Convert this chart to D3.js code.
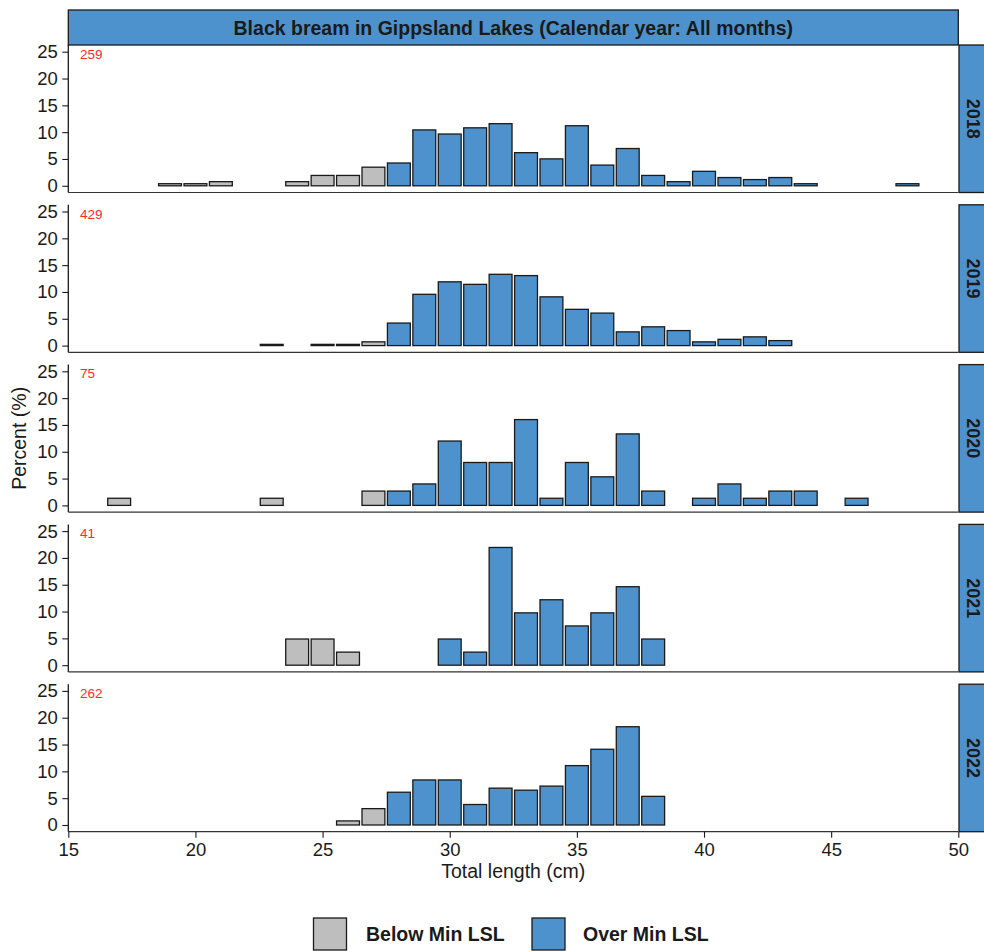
<!DOCTYPE html>
<html>
<head>
<meta charset="utf-8">
<script src="https://cdn.jsdelivr.net/npm/d3@7"></script>
<style>
  html, body { margin: 0; padding: 0; background: #fff; }
  svg { display: block; font-family: "Liberation Sans", Arial, Helvetica, sans-serif; }
</style>
</head>
<body>
<svg id="chart" width="984" height="952"></svg>
<script>
// Length-frequency of black bream catches, one histogram per calendar year
const years = ["2018", "2019", "2020", "2021", "2022"];
const sampleSizes = [259, 429, 75, 41, 262];
const minLSL = 28; // minimum legal size limit (cm)

// Percent of fish in each 1 cm length class
const len2018 = [19, 20, 21, 24, 25, 26, 27, 28, 29, 30, 31, 32, 33, 34, 35, 36, 37, 38, 39, 40, 41, 42, 43, 44, 48];
const pct2018 = [0.39, 0.39, 0.77, 0.77, 1.93, 1.93, 3.47, 4.25, 10.42, 9.65, 10.81, 11.58, 6.18, 5.02, 11.20, 3.86, 6.95, 1.93, 0.77, 2.70, 1.54, 1.16, 1.54, 0.39, 0.39];

const len2019 = [23, 25, 26, 27, 28, 29, 30, 31, 32, 33, 34, 35, 36, 37, 38, 39, 40, 41, 42, 43];
const pct2019 = [0.23, 0.23, 0.23, 0.70, 4.20, 9.56, 11.89, 11.42, 13.29, 13.05, 9.09, 6.76, 6.06, 2.56, 3.50, 2.80, 0.70, 1.17, 1.63, 0.93];

const len2020 = [17, 23, 27, 28, 29, 30, 31, 32, 33, 34, 35, 36, 37, 38, 40, 41, 42, 43, 44, 46];
const pct2020 = [1.33, 1.33, 2.67, 2.67, 4.00, 12.00, 8.00, 8.00, 16.00, 1.33, 8.00, 5.33, 13.33, 2.67, 1.33, 4.00, 1.33, 2.67, 2.67, 1.33];

const len2021 = [24, 25, 26, 30, 31, 32, 33, 34, 35, 36, 37, 38];
const pct2021 = [4.88, 4.88, 2.44, 4.88, 2.44, 21.95, 9.76, 12.20, 7.32, 9.76, 14.63, 4.88];

const len2022 = [26, 27, 28, 29, 30, 31, 32, 33, 34, 35, 36, 37, 38];
const pct2022 = [0.76, 3.05, 6.11, 8.40, 8.40, 3.82, 6.87, 6.49, 7.25, 11.07, 14.12, 18.32, 5.34];

const xTicks = [15, 20, 25, 30, 35, 40, 45, 50];
const yTicks = [0, 5, 10, 15, 20, 25];
const legendLabels = ["Below Min LSL", "Over Min LSL"];

const lengthsByYear = [len2018, len2019, len2020, len2021, len2022];
const pctByYear = [pct2018, pct2019, pct2020, pct2021, pct2022];

const colBelow = "#bebebe";
const colOver = "#4d92cd";
const stripFill = "#4d92cd";
const ink = "#1a1a1a";

const svg = d3.select("#chart");

const left = 68.3, right = 958.3;
const panelTop0 = 45, panelStep = 159.8, panelH = 147.5;
const stripW = 34;

const x = d3.scaleLinear().domain([15, 50]).range([left, right]);
const binW = 0.9;

// Title strip across the top
svg.append("rect")
  .attr("x", left).attr("y", 10)
  .attr("width", right - left).attr("height", 35)
  .attr("fill", stripFill).attr("stroke", ink).attr("stroke-width", 1.3);
svg.append("text")
  .attr("x", (left + right) / 2).attr("y", 34.5)
  .attr("text-anchor", "middle")
  .attr("font-size", 19.5).attr("font-weight", "bold").attr("fill", ink)
  .text("Black bream in Gippsland Lakes (Calendar year: All months)");

years.forEach((yr, i) => {
  const top = panelTop0 + i * panelStep;
  const bottom = top + panelH;
  const y = d3.scaleLinear().domain([-1.25, 26.25]).range([bottom, top]);
  const g = svg.append("g");

  const data = lengthsByYear[i].map((l, k) => ({ len: l, pct: pctByYear[i][k] }));

  // bars
  g.selectAll("rect.bar").data(data).enter().append("rect")
    .attr("class", "bar")
    .attr("x", d => x(d.len - binW / 2))
    .attr("width", d => x(d.len + binW / 2) - x(d.len - binW / 2))
    .attr("y", d => y(d.pct))
    .attr("height", d => y(0) - y(d.pct))
    .attr("fill", d => d.len < minLSL ? colBelow : colOver)
    .attr("stroke", ink).attr("stroke-width", 1.3);

  // y axis
  const yAxis = d3.axisLeft(y).tickValues(yTicks).tickSize(6).tickPadding(4.5);
  const ya = g.append("g").attr("transform", `translate(${left},0)`).call(yAxis);
  ya.select(".domain").remove();
  ya.selectAll(".tick line").attr("stroke", ink).attr("stroke-width", 1.1);
  ya.selectAll(".tick text").attr("font-size", 18.5).attr("fill", ink)
    .attr("font-family", "Liberation Sans, Arial, sans-serif");

  // axis lines
  g.append("line").attr("x1", left).attr("x2", left).attr("y1", top).attr("y2", bottom)
    .attr("stroke", ink).attr("stroke-width", 1.3);
  g.append("line").attr("x1", left).attr("x2", right).attr("y1", bottom).attr("y2", bottom)
    .attr("stroke", "#333").attr("stroke-width", 1.2);

  // sample size
  g.append("text")
    .attr("x", 80).attr("y", top + 13.8)
    .attr("font-size", 13.5).attr("fill", "#ff2a2a")
    .text(sampleSizes[i]);

  // year strip on the right
  g.append("rect")
    .attr("x", right + 0.7).attr("y", top)
    .attr("width", stripW).attr("height", panelH)
    .attr("fill", stripFill).attr("stroke", ink).attr("stroke-width", 1.3);
  g.append("text")
    .attr("transform", `translate(973.5,${top + panelH / 2}) rotate(90)`)
    .attr("text-anchor", "middle").attr("dy", "0.35em")
    .attr("font-size", 18).attr("font-weight", "bold").attr("fill", ink)
    .text(yr);

  // x axis on the bottom panel only
  if (i === years.length - 1) {
    const xAxis = d3.axisBottom(x).tickValues(xTicks).tickSize(6).tickPadding(5.5);
    const xa = g.append("g").attr("transform", `translate(0,${bottom})`).call(xAxis);
    xa.select(".domain").remove();
    xa.selectAll(".tick line").attr("stroke", ink).attr("stroke-width", 1.1);
    xa.selectAll(".tick text").attr("font-size", 18.5).attr("fill", ink)
      .attr("font-family", "Liberation Sans, Arial, sans-serif");

    svg.append("text")
      .attr("x", (left + right) / 2).attr("y", bottom + 46)
      .attr("text-anchor", "middle").attr("font-size", 19.5).attr("fill", ink)
      .text("Total length (cm)");
  }
});

// y axis title
const midY = (panelTop0 + panelTop0 + 4 * panelStep + panelH) / 2;
svg.append("text")
  .attr("transform", `translate(26,${midY}) rotate(-90)`)
  .attr("text-anchor", "middle")
  .attr("font-size", 19.5).attr("fill", ink)
  .text("Percent (%)");

// legend
const legend = svg.append("g");
const legendItems = [
  { label: legendLabels[0], fill: colBelow, bx: 313.5, tx: 366 },
  { label: legendLabels[1], fill: colOver, bx: 532, tx: 583 }
];
legendItems.forEach(d => {
  legend.append("rect")
    .attr("x", d.bx).attr("y", 918)
    .attr("width", 33).attr("height", 32)
    .attr("fill", d.fill).attr("stroke", ink).attr("stroke-width", 1.3);
  legend.append("text")
    .attr("x", d.tx).attr("y", 941)
    .attr("font-size", 19.5).attr("font-weight", "bold").attr("fill", ink)
    .text(d.label);
});
</script>
</body>
</html>
